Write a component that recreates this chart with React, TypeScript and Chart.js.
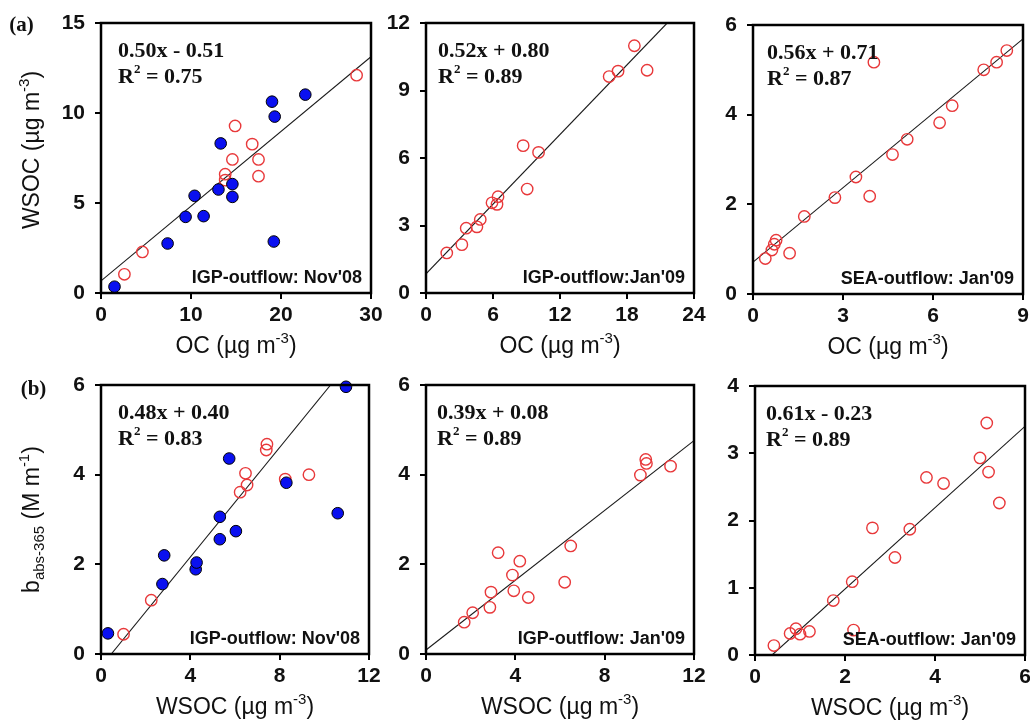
import React, { useEffect, useRef } from "react";
import { Chart, registerables } from "chart.js";

Chart.register(...registerables);

// ---------- DATA ----------
// (a) left: WSOC vs OC, IGP-outflow Nov'08
const a1BlueOC = [1.5, 7.4, 9.4, 10.4, 11.4, 13.05, 13.3, 14.6, 14.6, 19.0, 19.3, 19.2, 22.7];
const a1BlueWSOC = [0.35, 2.75, 4.23, 5.4, 4.27, 5.75, 8.31, 6.05, 5.34, 10.63, 9.8, 2.86, 11.02];
const a1RedOC = [2.6, 4.6, 13.8, 13.8, 14.6, 14.9, 16.8, 17.5, 17.5, 28.4];
const a1RedWSOC = [1.04, 2.28, 6.6, 6.27, 7.42, 9.28, 8.27, 7.42, 6.49, 12.1];
const a1FitX = [0, 30];
const a1FitY = [0.67, 13.13];

// (a) middle: WSOC vs OC, IGP-outflow Jan'09
const a2RedOC = [1.86, 3.21, 3.6, 4.56, 4.86, 5.91, 6.36, 6.45, 8.7, 9.06, 10.08, 16.4, 17.2, 18.66, 19.8];
const a2RedWSOC = [1.78, 2.15, 2.88, 2.94, 3.27, 4.01, 3.94, 4.28, 6.55, 4.62, 6.25, 9.62, 9.86, 10.99, 9.9];
const a2FitX = [0, 21.6];
const a2FitY = [0.85, 12];

// (a) right: WSOC vs OC, SEA-outflow Jan'09
const a3RedOC = [0.41, 0.63, 0.71, 0.77, 1.22, 1.71, 2.73, 3.43, 3.89, 4.03, 4.65, 5.14, 6.22, 6.64, 7.69, 8.12, 8.46];
const a3RedWSOC = [0.79, 0.98, 1.11, 1.2, 0.91, 1.73, 2.15, 2.61, 2.18, 5.17, 3.11, 3.45, 3.82, 4.2, 5.0, 5.17, 5.43];
const a3FitX = [0, 9];
const a3FitY = [0.71, 5.69];

// (b) left: babs-365 vs WSOC, IGP-outflow Nov'08
const b1BlueWSOC = [0.31, 2.75, 2.83, 4.24, 4.28, 5.32, 5.32, 5.74, 6.04, 8.3, 10.6, 10.97];
const b1BlueBabs = [0.46, 1.56, 2.2, 1.89, 2.04, 3.06, 2.56, 4.36, 2.74, 3.82, 3.14, 5.96];
const b1RedWSOC = [1.01, 2.25, 6.23, 6.47, 6.54, 7.4, 7.43, 8.25, 9.31];
const b1RedBabs = [0.44, 1.2, 3.61, 4.03, 3.77, 4.55, 4.68, 3.9, 4.0];
const b1FitX = [0.46, 10.28];
const b1FitY = [0, 6];

// (b) middle: babs-365 vs WSOC, IGP-outflow Jan'09
const b2RedWSOC = [1.71, 2.09, 2.86, 2.91, 3.23, 3.87, 3.93, 4.2, 4.58, 6.21, 6.48, 9.6, 9.84, 9.87, 10.95];
const b2RedBabs = [0.71, 0.92, 1.04, 1.38, 2.26, 1.76, 1.41, 2.07, 1.26, 1.6, 2.41, 3.99, 4.34, 4.25, 4.19];
const b2FitX = [0, 12];
const b2FitY = [0.09, 4.76];

// (b) right: babs-365 vs WSOC, SEA-outflow Jan'09
const b3RedWSOC = [0.42, 0.78, 0.91, 1.0, 1.21, 1.74, 2.16, 2.19, 2.61, 3.11, 3.44, 3.81, 4.19, 5.0, 5.15, 5.19, 5.43];
const b3RedBabs = [0.14, 0.32, 0.39, 0.31, 0.35, 0.81, 1.09, 0.37, 1.89, 1.45, 1.87, 2.64, 2.55, 2.93, 3.45, 2.72, 2.26];
const b3FitX = [0.38, 6];
const b3FitY = [0, 3.4];

// Axis ranges / ticks
const xMins = [0, 0, 0, 0, 0, 0];
const xMaxs = [30, 24, 9, 12, 12, 6];
const xSteps = [10, 6, 3, 4, 4, 2];
const yMins = [0, 0, 0, 0, 0, 0];
const yMaxs = [15, 12, 6, 6, 6, 4];
const ySteps = [5, 3, 2, 2, 2, 1];

// Texts
const eqLines = ["0.50x - 0.51", "0.52x + 0.80", "0.56x + 0.71", "0.48x + 0.40", "0.39x + 0.08", "0.61x - 0.23"];
const r2Values = ["0.75", "0.89", "0.87", "0.83", "0.89", "0.89"];
const siteLabels = [
  "IGP-outflow: Nov'08",
  "IGP-outflow:Jan'09",
  "SEA-outflow: Jan'09",
  "IGP-outflow: Nov'08",
  "IGP-outflow: Jan'09",
  "SEA-outflow: Jan'09",
];

// ---------- STYLE / LAYOUT ----------
const SANS = '"Liberation Sans", Arial, Helvetica, sans-serif';
const SERIF = '"Liberation Serif", "Times New Roman", Times, serif';
const INK = "#111";
const BLUE = "#0a10f0";
const RED = "#e8383a";

type Seg = { t: string; font: string; dy?: number };

function drawRich(ctx: CanvasRenderingContext2D, segs: Seg[], x: number, y: number, align: "left" | "center" | "right") {
  let w = 0;
  for (const s of segs) {
    ctx.font = s.font;
    w += ctx.measureText(s.t).width;
  }
  let cx = align === "left" ? x : align === "center" ? x - w / 2 : x - w;
  ctx.textAlign = "left";
  ctx.textBaseline = "middle";
  for (const s of segs) {
    ctx.font = s.font;
    ctx.fillText(s.t, cx, y + (s.dy || 0));
    cx += ctx.measureText(s.t).width;
  }
}

type PanelCfg = {
  idx: number;
  area: [number, number, number, number]; // L, T, R, B (page px)
  blue?: [number[], number[]];
  red: [number[], number[]];
  fit: [number[], number[]];
  row: 0 | 1;
  first: boolean;
  eqDx: number;
};

const PAD_L = 100;
const PAD_T = 25;
const PAD_R = 20;
const PAD_B = 70;

const panels: PanelCfg[] = [
  { idx: 0, area: [101, 23, 371, 293], blue: [a1BlueOC, a1BlueWSOC], red: [a1RedOC, a1RedWSOC], fit: [a1FitX, a1FitY], row: 0, first: true, eqDx: 17 },
  { idx: 1, area: [426, 23, 694, 293], red: [a2RedOC, a2RedWSOC], fit: [a2FitX, a2FitY], row: 0, first: false, eqDx: 12 },
  { idx: 2, area: [753, 25, 1023, 294], red: [a3RedOC, a3RedWSOC], fit: [a3FitX, a3FitY], row: 0, first: false, eqDx: 14 },
  { idx: 3, area: [101, 385, 369, 654], blue: [b1BlueWSOC, b1BlueBabs], red: [b1RedWSOC, b1RedBabs], fit: [b1FitX, b1FitY], row: 1, first: true, eqDx: 17 },
  { idx: 4, area: [426, 385, 694, 654], red: [b2RedWSOC, b2RedBabs], fit: [b2FitX, b2FitY], row: 1, first: false, eqDx: 11 },
  { idx: 5, area: [755, 386, 1025, 655], red: [b3RedWSOC, b3RedBabs], fit: [b3FitX, b3FitY], row: 1, first: false, eqDx: 11 },
];

function toPts(xs: number[], ys: number[]) {
  return xs.map((x, i) => ({ x, y: ys[i] }));
}

function Panel({ p }: { p: PanelCfg }) {
  const ref = useRef<HTMLCanvasElement | null>(null);
  const [L, T, R, B] = p.area;
  const W = R - L + PAD_L + PAD_R;
  const H = B - T + PAD_T + PAD_B;

  useEffect(() => {
    const canvas = ref.current;
    if (!canvas) return;
    const i = p.idx;
    const tickFont = { family: SANS, size: 21, weight: "bold" as const };

    const decor = {
      id: "decor" + i,
      afterDatasetsDraw(chart: any) {
        const ctx: CanvasRenderingContext2D = chart.ctx;
        const a = chart.chartArea;
        ctx.save();
        // frame
        ctx.strokeStyle = "#000";
        ctx.lineWidth = 2.5;
        ctx.strokeRect(a.left, a.top, a.right - a.left, a.bottom - a.top);
        ctx.fillStyle = INK;
        // equation
        drawRich(ctx, [{ t: eqLines[i], font: `bold 22px ${SERIF}` }], a.left + p.eqDx, a.top + 28, "left");
        drawRich(
          ctx,
          [
            { t: "R", font: `bold 22px ${SERIF}` },
            { t: "2", font: `bold 13px ${SERIF}`, dy: -7 },
            { t: " = " + r2Values[i], font: `bold 22px ${SERIF}` },
          ],
          a.left + p.eqDx,
          a.top + 54,
          "left"
        );
        // site label
        drawRich(ctx, [{ t: siteLabels[i], font: `bold 18px ${SANS}` }], a.right - 9, a.bottom - 15, "right");
        // x title
        const xName = p.row === 0 ? "OC" : "WSOC";
        drawRich(
          ctx,
          [
            { t: xName + " (µg m", font: `23px ${SANS}` },
            { t: "-3", font: `15px ${SANS}`, dy: -8 },
            { t: ")", font: `23px ${SANS}` },
          ],
          (a.left + a.right) / 2,
          a.bottom + 54,
          "center"
        );
        if (p.first) {
          // y title
          ctx.save();
          const cy = (a.top + a.bottom) / 2 + (p.row === 0 ? -8 : 0);
          ctx.translate(a.left - 68, cy);
          ctx.rotate(-Math.PI / 2);
          const segs: Seg[] =
            p.row === 0
              ? [
                  { t: "WSOC (µg m", font: `23px ${SANS}` },
                  { t: "-3", font: `15px ${SANS}`, dy: -8 },
                  { t: ")", font: `23px ${SANS}` },
                ]
              : [
                  { t: "b", font: `23px ${SANS}` },
                  { t: "abs-365", font: `15px ${SANS}`, dy: 7 },
                  { t: " (M m", font: `23px ${SANS}` },
                  { t: "-1", font: `15px ${SANS}`, dy: -8 },
                  { t: ")", font: `23px ${SANS}` },
                ];
          drawRich(ctx, segs, 0, 0, "center");
          ctx.restore();
          // panel letter
          const letter = p.row === 0 ? "(a)" : "(b)";
          const lx = p.row === 0 ? a.left - 79.5 : a.left - 67.5;
          const ly = p.row === 0 ? a.top + 3 : a.top + 5;
          drawRich(ctx, [{ t: letter, font: `bold 21px ${SERIF}` }], lx, ly, "center");
        }
        ctx.restore();
      },
    };

    const datasets: any[] = [
      {
        type: "line",
        data: toPts(p.fit[0], p.fit[1]),
        borderColor: "#1a1a1a",
        borderWidth: 1.1,
        pointRadius: 0,
        fill: false,
        order: 3,
      },
      {
        type: "scatter",
        data: toPts(p.red[0], p.red[1]),
        pointRadius: 5.7,
        pointBorderWidth: 1.4,
        borderColor: RED,
        backgroundColor: "rgba(0,0,0,0)",
        pointBackgroundColor: "rgba(0,0,0,0)",
        pointBorderColor: RED,
        clip: false,
        order: 2,
      },
    ];
    if (p.blue) {
      datasets.push({
        type: "scatter",
        data: toPts(p.blue[0], p.blue[1]),
        pointRadius: 5.8,
        pointBorderWidth: 1,
        pointBackgroundColor: BLUE,
        pointBorderColor: "#000",
        backgroundColor: BLUE,
        borderColor: "#000",
        clip: false,
        order: 1,
      });
    }

    const chart = new Chart(canvas, {
      type: "scatter",
      data: { datasets },
      plugins: [decor],
      options: {
        responsive: false,
        animation: false,
        devicePixelRatio: 1,
        layout: { padding: { left: 0, top: PAD_T, right: PAD_R, bottom: 0 } },
        plugins: { legend: { display: false }, tooltip: { enabled: false } },
        events: [],
        scales: {
          x: {
            type: "linear",
            position: "bottom",
            min: xMins[i],
            max: xMaxs[i],
            ticks: { stepSize: xSteps[i], font: tickFont, color: INK, padding: 4, maxRotation: 0, autoSkip: false },
            grid: { drawOnChartArea: false, drawTicks: true, tickLength: 6, tickWidth: 2, tickColor: "#000", lineWidth: 2 },
            border: { display: false },
            afterFit: (s: any) => {
              s.height = PAD_B;
            },
          },
          y: {
            type: "linear",
            position: "left",
            min: yMins[i],
            max: yMaxs[i],
            ticks: { stepSize: ySteps[i], font: tickFont, color: INK, padding: 10, autoSkip: false },
            grid: { drawOnChartArea: false, drawTicks: true, tickLength: 6, tickWidth: 2, tickColor: "#000", lineWidth: 2 },
            border: { display: false },
            afterFit: (s: any) => {
              s.width = PAD_L;
            },
          },
        },
      } as any,
    });
    return () => chart.destroy();
  }, []);

  return (
    <canvas
      ref={ref}
      width={W}
      height={H}
      style={{ position: "absolute", left: L - PAD_L, top: T - PAD_T, width: W, height: H, display: "block" }}
    />
  );
}

export default function App() {
  return (
    <div
      style={{
        position: "absolute",
        left: 0,
        top: 0,
        width: 1030,
        height: 722,
        overflow: "hidden",
        background: "#fff",
      }}
    >
      {panels.map((p) => (
        <Panel key={p.idx} p={p} />
      ))}
    </div>
  );
}
